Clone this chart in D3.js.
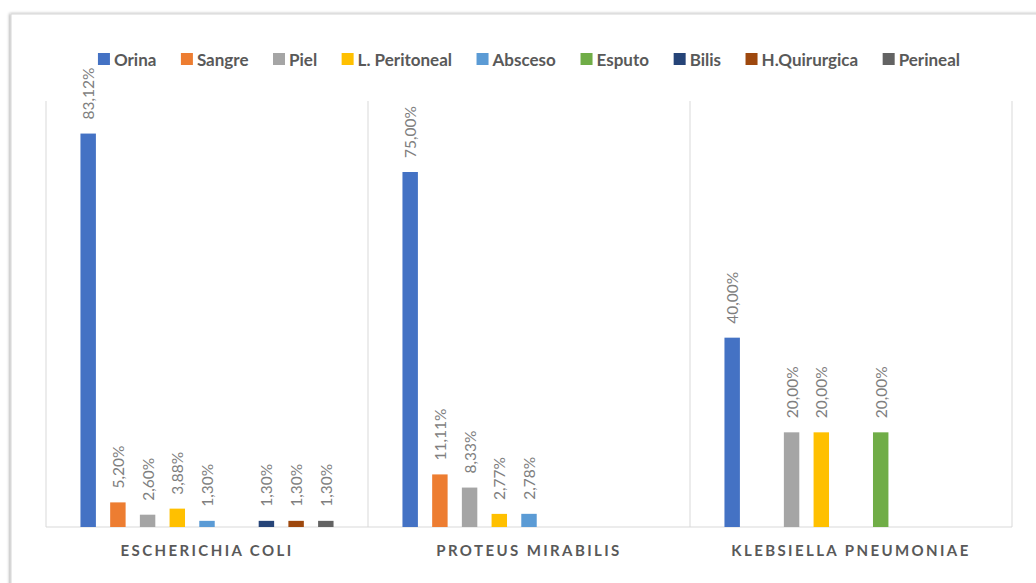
<!DOCTYPE html>
<html>
<head>
<meta charset="utf-8">
<script src="https://cdn.jsdelivr.net/npm/d3@7"></script>
<style>
  body { margin: 0; background: #fff; }
  svg { display: block; font-family: Lato, "Open Sans", sans-serif; }
</style>
</head>
<body>
<div id="chart"></div>
<script>
// categories and series (percent values, null = no bar)
const categories = ["ESCHERICHIA COLI", "PROTEUS MIRABILIS", "KLEBSIELLA PNEUMONIAE"];
const seriesNames = ["Orina", "Sangre", "Piel", "L. Peritoneal", "Absceso", "Esputo", "Bilis", "H.Quirurgica", "Perineal"];
const seriesColors = ["#4472C4", "#ED7D31", "#A5A5A5", "#FFC000", "#5B9BD5", "#70AD47", "#264478", "#9E480E", "#636363"];

const orina = [83.12, 75.00, 40.00];
const sangre = [5.20, 11.11, null];
const piel = [2.60, 8.33, 20.00];
const peritoneal = [3.88, 2.77, 20.00];
const absceso = [1.30, 2.78, null];
const esputo = [null, null, 20.00];
const bilis = [1.30, null, null];
const quirurgica = [1.30, null, null];
const perineal = [1.30, null, null];

const seriesValues = [orina, sangre, piel, peritoneal, absceso, esputo, bilis, quirurgica, perineal];

const W = 1036, H = 583;
const plot = { left: 46, right: 1012, top: 101, bottom: 527 };

const svg = d3.select("#chart").append("svg")
  .attr("width", W)
  .attr("height", H);

// frame with a soft shadow
const defs = svg.append("defs");
const f = defs.append("filter").attr("id", "shadow")
  .attr("x", "-5%").attr("y", "-5%").attr("width", "110%").attr("height", "110%");
f.append("feDropShadow")
  .attr("dx", -1).attr("dy", 0).attr("stdDeviation", 1.8)
  .attr("flood-color", "#000").attr("flood-opacity", 0.35);

svg.append("rect")
  .attr("x", 11).attr("y", 14)
  .attr("width", 1100).attr("height", 700)
  .attr("fill", "#fff")
  .attr("stroke", "#d6d6d6")
  .attr("filter", "url(#shadow)");

let x0 = d3.scaleBand()
  .domain(categories)
  .range([plot.left, plot.right])
  .padding(0);

let x1 = d3.scaleBand()
  .domain(seriesNames)
  .range([0, x0.bandwidth()])
  .paddingInner(0.48)
  .paddingOuter(1.16);

let y = d3.scaleLinear()
  .domain([0, 90])
  .range([plot.bottom, plot.top]);

// category separators + baseline
let g = svg.append("g");
g.selectAll(".sep")
  .data(categories.map(c => x0(c)).concat([x0(categories[categories.length - 1]) + x0.bandwidth()]))
  .join("line")
  .attr("x1", d => d).attr("x2", d => d)
  .attr("y1", plot.top).attr("y2", plot.bottom)
  .attr("stroke", "#d9d9d9");

g.append("line")
  .attr("x1", plot.left).attr("x2", plot.right)
  .attr("y1", plot.bottom).attr("y2", plot.bottom)
  .attr("stroke", "#d9d9d9");

// bars
let rows = [];
categories.forEach((c, ci) => {
  seriesNames.forEach((s, si) => {
    let v = seriesValues[si][ci];
    if (v != null) rows.push({ cat: c, series: s, value: v, color: seriesColors[si] });
  });
});

let bars = svg.append("g").selectAll("rect")
  .data(rows)
  .join("rect")
  .attr("x", d => x0(d.cat) + x1(d.series))
  .attr("y", d => y(d.value))
  .attr("width", x1.bandwidth())
  .attr("height", d => y(0) - y(d.value))
  .attr("fill", d => d.color);

// data labels, rotated
svg.append("g").selectAll("text")
  .data(rows)
  .join("text")
  .attr("transform", d => `translate(${x0(d.cat) + x1(d.series) + x1.bandwidth() / 2},${y(d.value) - 14}) rotate(-90)`)
  .attr("dominant-baseline", "central")
  .attr("text-anchor", "start")
  .attr("font-size", "15.5px")
  .attr("fill", "#7f7f7f")
  .text(d => d.value.toFixed(2).replace(".", ",") + "%");

// category labels
svg.append("g").selectAll("text")
  .data(categories)
  .join("text")
  .attr("x", d => x0(d) + x0.bandwidth() / 2)
  .attr("y", 556)
  .attr("text-anchor", "middle")
  .attr("font-size", "15px")
  .attr("font-weight", "bold")
  .attr("letter-spacing", "2.4px")
  .attr("fill", "#595959")
  .text(d => d);

// legend
let legend = svg.append("g");
let items = legend.selectAll("g")
  .data(seriesNames)
  .join("g");

items.append("rect")
  .attr("width", 12).attr("height", 12)
  .attr("y", -6)
  .attr("fill", (d, i) => seriesColors[i]);

items.append("text")
  .attr("x", 16)
  .attr("dominant-baseline", "central")
  .attr("font-size", "17px")
  .attr("font-weight", "bold")
  .attr("fill", "#595959")
  .text(d => d);

let gap = 24.5;
let xpos = 0, offsets = [];
items.each(function () {
  offsets.push(xpos);
  xpos += this.getBBox().width + gap;
});
let total = xpos - gap;
items.attr("transform", (d, i) => `translate(${offsets[i]},0)`);
legend.attr("transform", `translate(${(plot.left + plot.right) / 2 - total / 2},59)`);
</script>
</body>
</html>
